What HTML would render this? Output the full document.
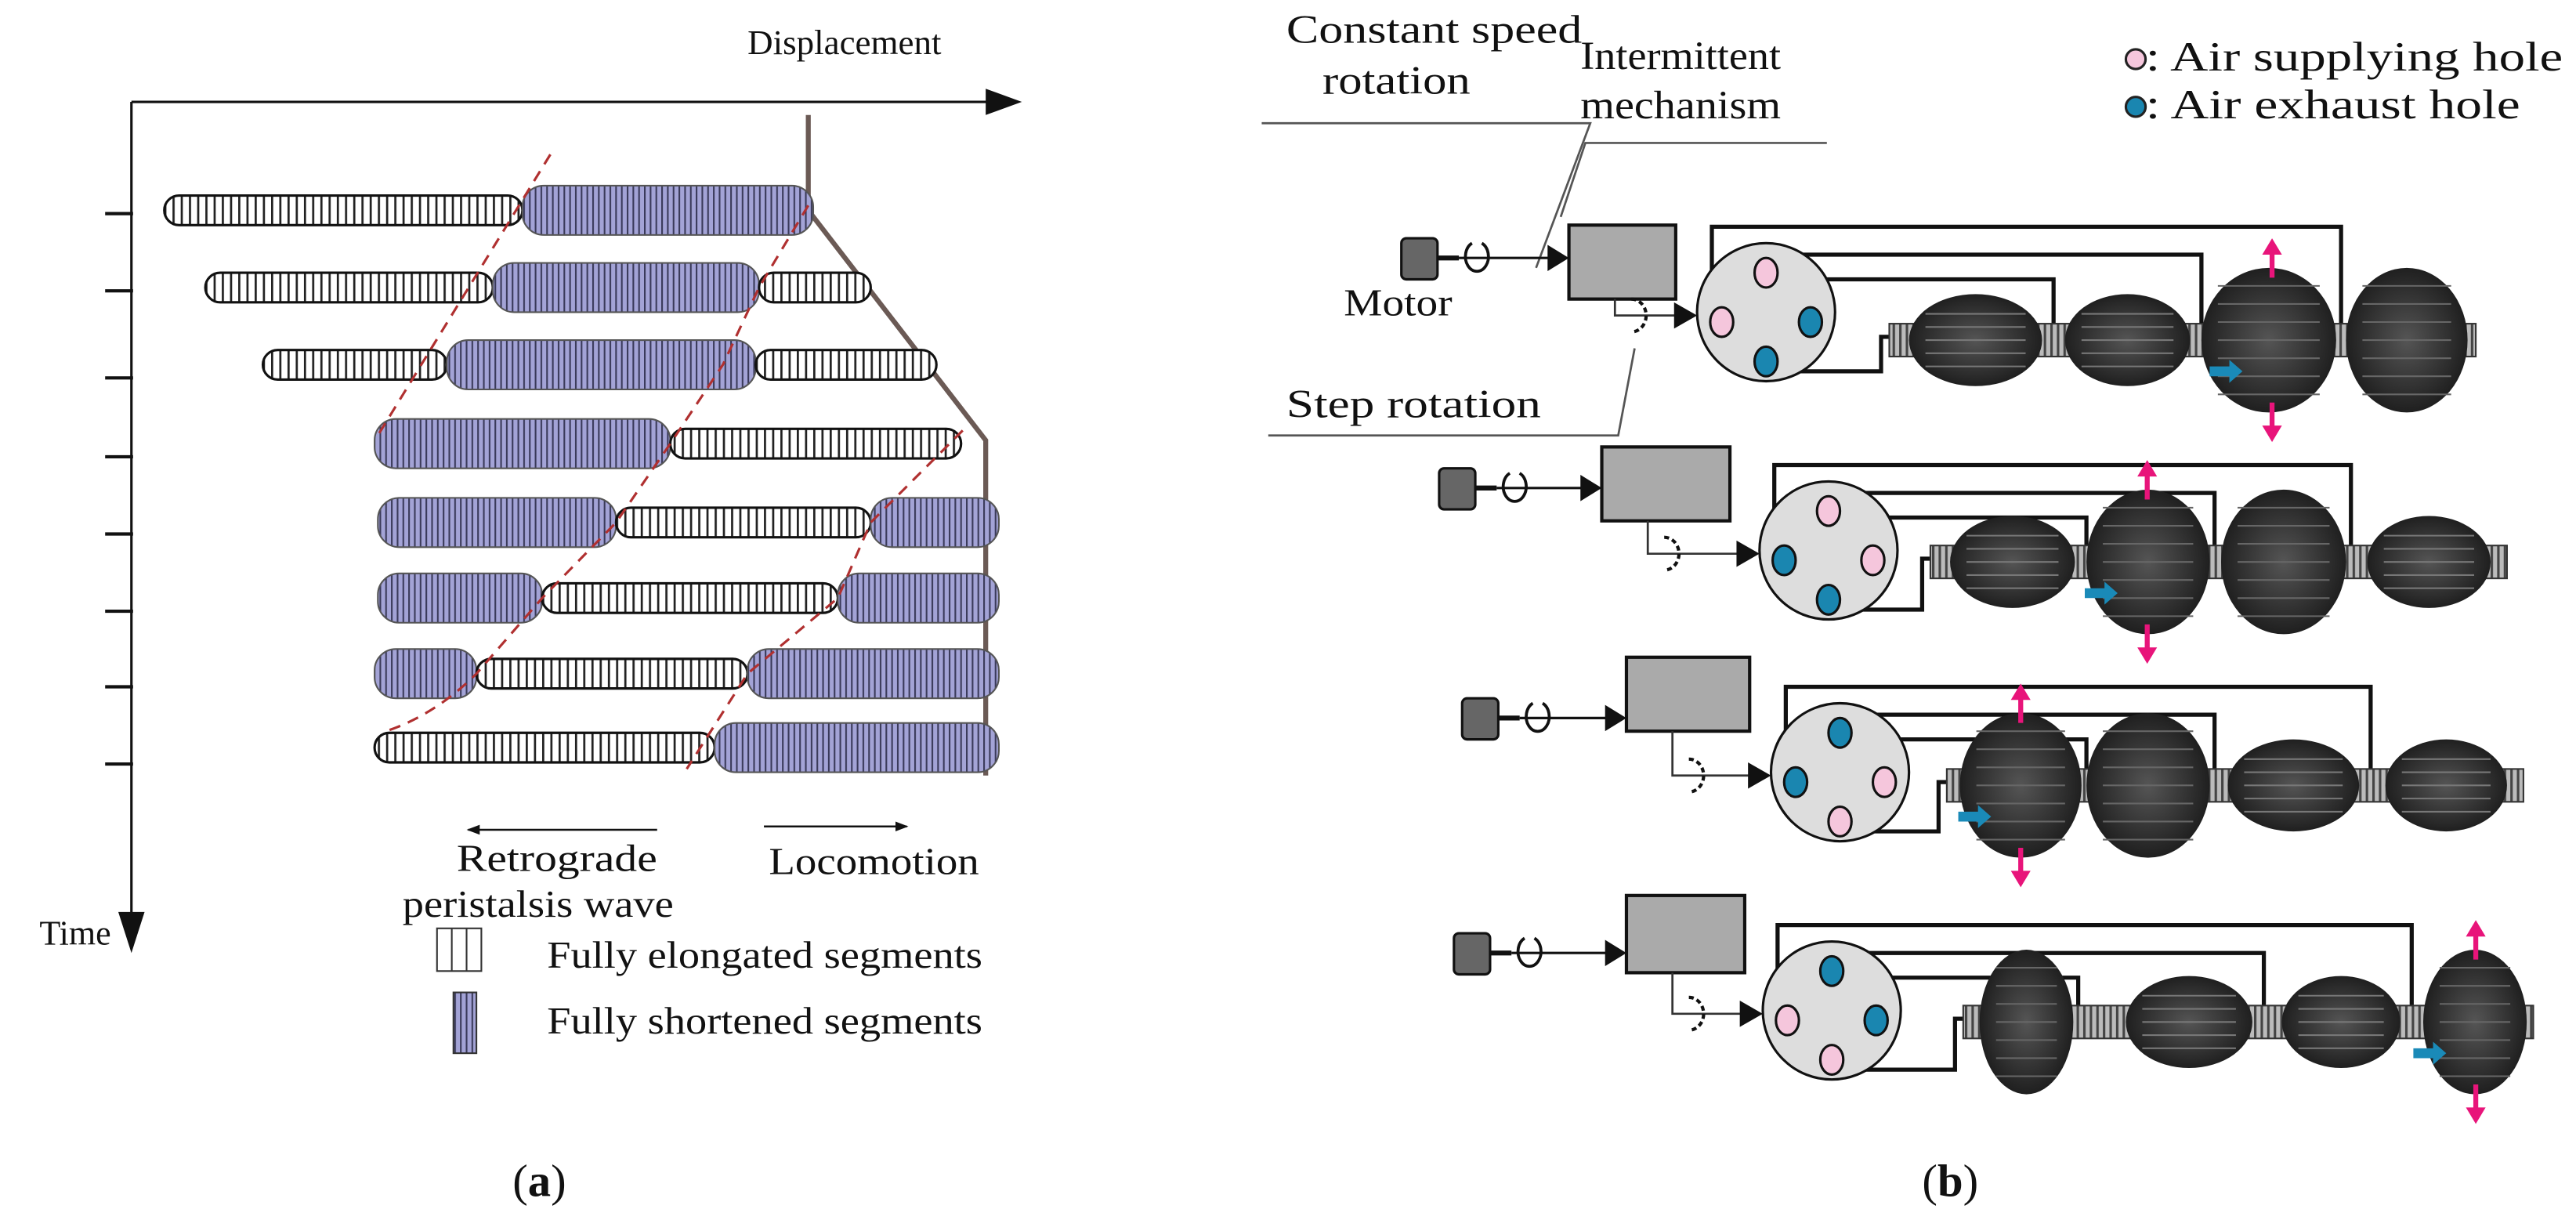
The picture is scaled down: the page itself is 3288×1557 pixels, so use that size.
<!DOCTYPE html>
<html><head><meta charset="utf-8"><style>
html,body{margin:0;padding:0;background:#fff;width:3288px;height:1557px;overflow:hidden}
svg{display:block}
text{font-family:"Liberation Serif",serif;fill:#111}
</style></head><body>
<svg id="s" width="3288" height="1557" viewBox="0 0 1568 742.5" xmlns="http://www.w3.org/2000/svg">
<defs>
<pattern id="ph" width="5" height="10" patternUnits="userSpaceOnUse"><rect width="5" height="10" fill="#fff"/><rect x="0" width="1.3" height="10" fill="#222"/></pattern>
<pattern id="pv" width="3.5" height="10" patternUnits="userSpaceOnUse"><rect width="3.5" height="10" fill="#a3a3d6"/><rect x="0" width="1" height="10" fill="#3a3a5a"/></pattern>
<pattern id="rib" width="4" height="10" patternUnits="userSpaceOnUse"><rect width="4" height="10" fill="#bbb"/><rect width="1.5" height="10" fill="#444"/></pattern>
<radialGradient id="bal" cx="50%" cy="50%" r="55%"><stop offset="0" stop-color="#555"/><stop offset="1" stop-color="#1a1a1a"/></radialGradient>
<marker id="ah" markerWidth="8" markerHeight="8" refX="7" refY="4" orient="auto" markerUnits="userSpaceOnUse"><path d="M0,1 L8,4 L0,7z" fill="#111"/></marker>
</defs>
<g id="a">
<line x1="80" y1="62" x2="605" y2="62" stroke="#111" stroke-width="1.5"/>
<path d="M600,54 L622,62 L600,70z" fill="#111"/>
<line x1="80" y1="62" x2="80" y2="560" stroke="#111" stroke-width="1.5"/>
<path d="M72,555 L80,580 L88,555z" fill="#111"/>
<text x="455" y="33" font-size="21" textLength="118" lengthAdjust="spacingAndGlyphs">Displacement</text>
<text x="24" y="575" font-size="21">Time</text>
<path d="M492,70 L492,128 L600,268 L600,472" fill="none" stroke="#6b5a55" stroke-width="3"/>
</g>
<g id="caps"></g>
<g id="dash" fill="none" stroke="#b03030" stroke-width="1.5" stroke-dasharray="7,5">
<path d="M335,94 L230,265"/>
<path d="M492,125 L462,175 L440,222 L408,270 L375,318 L330,364 L290,410 Q265,435 235,445"/>
<path d="M586,262 L530,318 L510,364 L455,410 L418,468"/>
</g>
<g>
<line x1="400" y1="505" x2="285" y2="505" stroke="#111" stroke-width="1.2" marker-end="url(#ah)"/>
<line x1="465" y1="503" x2="552" y2="503" stroke="#111" stroke-width="1.2" marker-end="url(#ah)"/>
<text x="278" y="530" font-size="23" textLength="122" lengthAdjust="spacingAndGlyphs">Retrograde</text>
<text x="245" y="558" font-size="23" textLength="165" lengthAdjust="spacingAndGlyphs">peristalsis wave</text>
<text x="468" y="532" font-size="23" textLength="128" lengthAdjust="spacingAndGlyphs">Locomotion</text>
<rect x="266" y="565" width="27" height="26" fill="#fff" stroke="#333"/>
<line x1="275" y1="565" x2="275" y2="591" stroke="#333"/><line x1="284" y1="565" x2="284" y2="591" stroke="#333"/>
<rect x="276" y="604" width="14" height="37" fill="url(#pv)" stroke="#333"/>
<text x="333" y="589" font-size="23" textLength="265" lengthAdjust="spacingAndGlyphs">Fully elongated segments</text>
<text x="333" y="629" font-size="23" textLength="265" lengthAdjust="spacingAndGlyphs">Fully shortened segments</text>
<text x="312" y="728" font-size="28">(<tspan font-weight="bold">a</tspan>)</text>
<text x="1170" y="728" font-size="28">(<tspan font-weight="bold">b</tspan>)</text>
</g>
<g>
<text x="783" y="26" font-size="24" textLength="180" lengthAdjust="spacingAndGlyphs">Constant speed</text>
<text x="805" y="57" font-size="24" textLength="90" lengthAdjust="spacingAndGlyphs">rotation</text>
<text x="962" y="42" font-size="24" textLength="122" lengthAdjust="spacingAndGlyphs">Intermittent</text>
<text x="962" y="72" font-size="24" textLength="122" lengthAdjust="spacingAndGlyphs">mechanism</text>
<text x="818" y="192" font-size="23" textLength="66" lengthAdjust="spacingAndGlyphs">Motor</text>
<text x="783" y="254" font-size="24" textLength="155" lengthAdjust="spacingAndGlyphs">Step rotation</text>
<polyline points="768,75 968,75 935,163" fill="none" stroke="#555" stroke-width="1.3"/>
<polyline points="1112,87 965,87 950,132" fill="none" stroke="#555" stroke-width="1.3"/>
<polyline points="772,265 985,265 995,212" fill="none" stroke="#555" stroke-width="1.3"/>
<circle cx="1300" cy="36" r="6" fill="#f5c6dc" stroke="#222" stroke-width="1.5"/>
<circle cx="1300" cy="65" r="6" fill="#1a86b0" stroke="#222" stroke-width="1.5"/>
<text x="1306" y="43" font-size="25" textLength="254" lengthAdjust="spacingAndGlyphs">: Air supplying hole</text>
<text x="1306" y="72" font-size="25" textLength="228" lengthAdjust="spacingAndGlyphs">: Air exhaust hole</text>
</g>
<g id="b"></g>
</svg>
<script>
var NS="http://www.w3.org/2000/svg";
function el(p,t,a){var e=document.createElementNS(NS,t);for(var k in a)e.setAttribute(k,a[k]);p.appendChild(e);return e;}
var caps=document.getElementById('caps');
[130,177,230,278,325,372,418,465].forEach(function(y){el(caps,'line',{x1:64,y1:y,x2:81,y2:y,stroke:'#111','stroke-width':2});});
var rows=[
[128,[['E',100,318],['S',318,495]]],
[175,[['E',125,300],['S',300,462],['E',462,530]]],
[222,[['E',160,272],['S',272,460],['E',460,570]]],
[270,[['S',228,408],['E',408,585]]],
[318,[['S',230,375],['E',375,530],['S',530,608]]],
[364,[['S',230,330],['E',330,510],['S',510,608]]],
[410,[['S',228,290],['E',290,455],['S',455,608]]],
[455,[['E',228,435],['S',435,608]]]];
rows.forEach(function(r){var y=r[0];r[1].forEach(function(s){
 if(s[0]=='E'){el(caps,'rect',{x:s[1],y:y-9,width:s[2]-s[1],height:18,rx:9,fill:'url(#ph)',stroke:'#111','stroke-width':1.5});}
 else{el(caps,'rect',{x:s[1],y:y-15,width:s[2]-s[1],height:30,rx:13,fill:'url(#pv)',stroke:'#555','stroke-width':1});}
});});
var b=document.getElementById('b');
var R=[
 {m:853,my:157,bx:955,by:137,bw:65,bh:45,cx:1075,cy:190,ty:207,h:['p','p','b','b'],seg:[['E',1158,1247],['E',1253,1337],['B',1340,1422],['B',1428,1502]],t0:1150,t1:1507,ar:1383},
 {m:876,my:297,bx:975,by:272,bw:78,bh:45,cx:1113,cy:335,ty:342,h:['p','b','p','b'],seg:[['E',1183,1267],['B',1270,1345],['B',1352,1428],['E',1437,1520]],t0:1175,t1:1526,ar:1307},
 {m:890,my:437,bx:990,by:400,bw:75,bh:45,cx:1120,cy:470,ty:478,h:['b','b','p','p'],seg:[['B',1193,1267],['B',1270,1345],['E',1352,1440],['E',1448,1530]],t0:1185,t1:1536,ar:1230},
 {m:885,my:580,bx:990,by:545,bw:72,bh:47,cx:1115,cy:615,ty:622,h:['b','p','b','p'],seg:[['B',1205,1262],['E',1290,1375],['E',1385,1465],['B',1475,1538]],t0:1195,t1:1542,ar:1507}];
R.forEach(function(r){
 el(b,'rect',{x:r.m,y:r.my-12,width:22,height:25,rx:3,fill:'#666',stroke:'#111','stroke-width':1.5});
 el(b,'line',{x1:r.m+22,y1:r.my,x2:r.m+35,y2:r.my,stroke:'#111','stroke-width':3});
 el(b,'line',{x1:r.m+35,y1:r.my,x2:r.bx-4,y2:r.my,stroke:'#111','stroke-width':1.5});
 el(b,'path',{d:'M'+(r.m+43)+','+(r.my-9)+' a7,9 0 1,0 6,0',fill:'none',stroke:'#111','stroke-width':1.8});
 el(b,'path',{d:'M'+(r.bx-13)+','+(r.my-8)+' L'+(r.bx)+','+r.my+' L'+(r.bx-13)+','+(r.my+8)+'z',fill:'#111'});
 el(b,'rect',{x:r.bx,y:r.by,width:r.bw,height:r.bh,fill:'#aaa',stroke:'#111','stroke-width':2});
 var sx=r.bx+28,sy=r.cy+2;
 el(b,'polyline',{points:sx+','+(r.by+r.bh)+' '+sx+','+sy+' '+(r.cx-48)+','+sy,fill:'none',stroke:'#333','stroke-width':1.3});
 el(b,'path',{d:'M'+(sx+10)+','+(sy-10)+' a9,10 0 1,1 0,20',fill:'none',stroke:'#111','stroke-width':2,'stroke-dasharray':'3,2'});
 el(b,'path',{d:'M'+(r.cx-56)+','+(sy-8)+' L'+(r.cx-42)+','+sy+' L'+(r.cx-56)+','+(sy+8)+'z',fill:'#111'});
 var top=r.cy-52;
 var segs=r.seg;
 var j1=segs[0][2]+3,j2=segs[1][2]+3,j3=segs[2][2]+3;
 el(b,'polyline',{points:(r.cx-33)+','+(r.cy-20)+' '+(r.cx-33)+','+top+' '+j3+','+top+' '+j3+','+(r.ty-10),fill:'none',stroke:'#111','stroke-width':2.5});
 el(b,'polyline',{points:r.cx+','+(r.cy-28)+' '+r.cx+','+(top+17)+' '+j2+','+(top+17)+' '+j2+','+(r.ty-10),fill:'none',stroke:'#111','stroke-width':2.5});
 el(b,'polyline',{points:(r.cx+35)+','+(r.cy-22)+' '+(r.cx+35)+','+(top+32)+' '+j1+','+(top+32)+' '+j1+','+(r.ty-10),fill:'none',stroke:'#111','stroke-width':2.5});
 el(b,'polyline',{points:r.cx+','+(r.cy+36)+' '+(r.t0-5)+','+(r.cy+36)+' '+(r.t0-5)+','+(r.ty-2)+' '+r.t0+','+(r.ty-2),fill:'none',stroke:'#111','stroke-width':2.5});
 el(b,'circle',{cx:r.cx,cy:r.cy,r:42,fill:'#ddd',stroke:'#111','stroke-width':1.5});
 var pos=[[0,-24],[-27,6],[27,6],[0,30]];
 pos.forEach(function(p,i){el(b,'ellipse',{cx:r.cx+p[0],cy:r.cy+p[1],rx:7,ry:9,fill:r.h[i]=='p'?'#f5c6dc':'#1a86b0',stroke:'#111','stroke-width':1.5});});
 el(b,'rect',{x:r.t0,y:r.ty-10,width:r.t1-r.t0,height:20,fill:'url(#rib)',stroke:'#333','stroke-width':1});
 segs.forEach(function(s){var cx=(s[1]+s[2])/2,w=(s[2]-s[1])/2;
  if(s[0]=='E'){el(b,'ellipse',{cx:cx,cy:r.ty,rx:w-4,ry:28,fill:'url(#bal)'});
   for(var k=-2;k<=2;k++)el(b,'line',{x1:cx-w+14,y1:r.ty+k*8,x2:cx+w-14,y2:r.ty+k*8,stroke:'#777','stroke-width':1});}
  else{el(b,'ellipse',{cx:cx,cy:r.ty,rx:w,ry:44,fill:'url(#bal)'});
   for(var k=-3;k<=3;k++)el(b,'line',{x1:cx-w+10,y1:r.ty+k*11,x2:cx+w-10,y2:r.ty+k*11,stroke:'#666','stroke-width':1});}
 });
 var ax=r.ar;
 el(b,'line',{x1:ax,y1:r.ty-38,x2:ax,y2:r.ty-55,stroke:'#e8147a','stroke-width':3});
 el(b,'path',{d:'M'+(ax-6)+','+(r.ty-52)+' L'+ax+','+(r.ty-62)+' L'+(ax+6)+','+(r.ty-52)+'z',fill:'#e8147a'});
 el(b,'line',{x1:ax,y1:r.ty+38,x2:ax,y2:r.ty+55,stroke:'#e8147a','stroke-width':3});
 el(b,'path',{d:'M'+(ax-6)+','+(r.ty+52)+' L'+ax+','+(r.ty+62)+' L'+(ax+6)+','+(r.ty+52)+'z',fill:'#e8147a'});
 el(b,'path',{d:'M'+(ax-38)+','+(r.ty+16)+' h12 v-4 l8,7 l-8,7 v-4 h-12z',fill:'#1a8ab8'});
});
</script>
</body></html>
